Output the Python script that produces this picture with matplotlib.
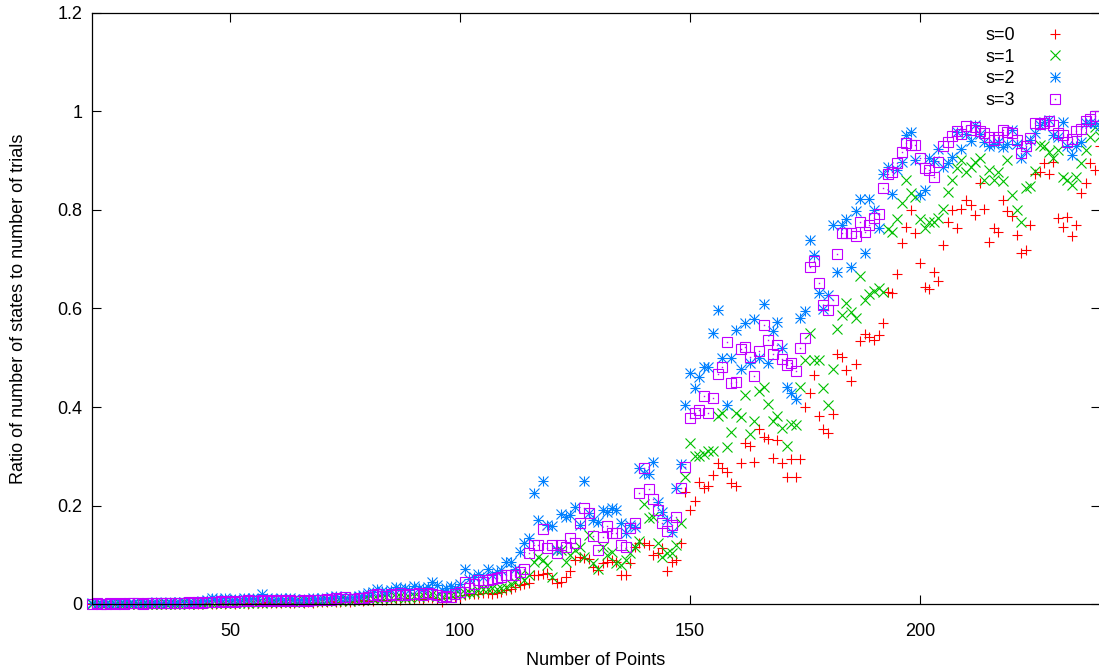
import matplotlib
matplotlib.use("Agg")
import matplotlib.pyplot as plt
from matplotlib.legend_handler import HandlerTuple
from matplotlib.ticker import FuncFormatter, MultipleLocator
import numpy as np

plt.rcParams["font.family"] = ["Liberation Sans", "DejaVu Sans"]

# number of points, one trial batch per size
points = list(range(20, 240))

# ratio of states to trials, s=0
ratio_s0 = [
    0, 0, 0, 0, 0, 0, 0, 0, 0, 0,
    0, 0, 0, 0, 0, 0.001, 0, 0, 0.001, 0,
    0, 0.001, 0, 0.001, 0, 0.002, 0, 0.001, 0.002, 0.001,
    0.002, 0.001, 0.002, 0.003, 0.001, 0.002, 0.003, 0.002, 0.004, 0.002,
    0.003, 0.002, 0.004, 0.003, 0.002, 0.004, 0.003, 0.005, 0.003, 0.004,
    0.005, 0.004, 0.006, 0.004, 0.005, 0.007, 0.005, 0.006, 0.008, 0.006,
    0.008, 0.007, 0.01, 0.009, 0.008, 0.011, 0.01, 0.009, 0.012, 0.01,
    0.011, 0.013, 0.01, 0.014, 0.012, 0.011, 0.005, 0.013, 0.015, 0.014,
    0.015, 0.018, 0.02, 0.02, 0.02, 0.022, 0.022, 0.02, 0.022, 0.025,
    0.028, 0.03, 0.035, 0.038, 0.04, 0.042, 0.059, 0.059, 0.06, 0.062,
    0.05, 0.042, 0.045, 0.055, 0.066, 0.089, 0.096, 0.093, 0.091, 0.076,
    0.069, 0.083, 0.086, 0.089, 0.086, 0.059, 0.059, 0.083, 0.116, 0.123,
    0.123, 0.12, 0.1, 0.103, 0.113, 0.066, 0.086, 0.09, 0.123, 0.228,
    0.19, 0.21, 0.248, 0.235, 0.24, 0.262, 0.286, 0.276, 0.269, 0.245,
    0.24, 0.286, 0.326, 0.321, 0.288, 0.355, 0.34, 0.336, 0.297, 0.333,
    0.287, 0.257, 0.294, 0.257, 0.295, 0.401, 0.428, 0.465, 0.382, 0.355,
    0.347, 0.385, 0.508, 0.502, 0.475, 0.453, 0.487, 0.534, 0.548, 0.542,
    0.537, 0.546, 0.571, 0.634, 0.631, 0.67, 0.734, 0.765, 0.801, 0.753,
    0.692, 0.643, 0.64, 0.675, 0.655, 0.729, 0.776, 0.801, 0.764, 0.803,
    0.82, 0.81, 0.79, 0.854, 0.802, 0.736, 0.763, 0.756, 0.82, 0.797,
    0.788, 0.749, 0.712, 0.719, 0.77, 0.873, 0.878, 0.895, 0.874, 0.898,
    0.784, 0.765, 0.785, 0.747, 0.77, 0.834, 0.854, 0.895, 0.881, 0.93,
]

# s=1
ratio_s1 = [
    0, 0, 0, 0, 0.001, 0, 0, 0.001, 0, 0,
    0.001, 0, 0.001, 0, 0.001, 0.001, 0, 0.002, 0.001, 0.001,
    0.002, 0.001, 0.002, 0.001, 0.003, 0.002, 0.002, 0.003, 0.002, 0.003,
    0.003, 0.002, 0.004, 0.003, 0.003, 0.004, 0.005, 0.003, 0.005, 0.004,
    0.004, 0.005, 0.004, 0.006, 0.005, 0.004, 0.006, 0.005, 0.007, 0.006,
    0.006, 0.008, 0.007, 0.006, 0.009, 0.008, 0.007, 0.01, 0.008, 0.009,
    0.012, 0.011, 0.013, 0.012, 0.015, 0.013, 0.014, 0.016, 0.013, 0.015,
    0.017, 0.015, 0.018, 0.016, 0.02, 0.017, 0.015, 0.019, 0.018, 0.02,
    0.02, 0.022, 0.025, 0.025, 0.028, 0.03, 0.03, 0.032, 0.03, 0.033,
    0.035, 0.04, 0.045, 0.059, 0.049, 0.059, 0.086, 0.096, 0.089, 0.079,
    0.055, 0.11, 0.11, 0.086, 0.1, 0.11, 0.116, 0.096, 0.14, 0.083,
    0.072, 0.116, 0.1, 0.106, 0.083, 0.079, 0.09, 0.103, 0.116, 0.127,
    0.204, 0.174, 0.177, 0.123, 0.096, 0.103, 0.103, 0.12, 0.164, 0.258,
    0.326, 0.3, 0.3, 0.305, 0.31, 0.31, 0.382, 0.387, 0.319, 0.349,
    0.387, 0.38, 0.424, 0.345, 0.372, 0.432, 0.441, 0.406, 0.372, 0.382,
    0.357, 0.321, 0.365, 0.363, 0.441, 0.495, 0.551, 0.495, 0.495, 0.439,
    0.404, 0.477, 0.558, 0.587, 0.612, 0.592, 0.58, 0.666, 0.617, 0.629,
    0.635, 0.641, 0.634, 0.761, 0.756, 0.781, 0.814, 0.861, 0.834, 0.827,
    0.781, 0.763, 0.776, 0.776, 0.783, 0.803, 0.837, 0.861, 0.885, 0.902,
    0.878, 0.888, 0.898, 0.905, 0.861, 0.882, 0.86, 0.878, 0.858, 0.902,
    0.83, 0.8, 0.776, 0.844, 0.849, 0.88, 0.932, 0.929, 0.918, 0.905,
    0.922, 0.868, 0.861, 0.851, 0.868, 0.895, 0.922, 0.949, 0.969, 0.95,
]

# s=2
ratio_s2 = [
    0.002, 0.001, 0.002, 0.002, 0.001, 0.002, 0.003, 0.002, 0.002, 0.003,
    0.002, 0.003, 0.002, 0.003, 0.004, 0.003, 0.002, 0.004, 0.003, 0.004,
    0.004, 0.005, 0.003, 0.005, 0.006, 0.009, 0.012, 0.01, 0.008, 0.012,
    0.009, 0.011, 0.008, 0.012, 0.01, 0.013, 0.011, 0.02, 0.012, 0.01,
    0.011, 0.012, 0.009, 0.012, 0.01, 0.008, 0.011, 0.009, 0.012, 0.01,
    0.012, 0.011, 0.014, 0.016, 0.013, 0.012, 0.015, 0.014, 0.016, 0.018,
    0.022, 0.025, 0.03, 0.027, 0.024, 0.028, 0.035, 0.03, 0.032, 0.029,
    0.037, 0.032, 0.03, 0.034, 0.045, 0.038, 0.028, 0.032, 0.036, 0.032,
    0.04, 0.072, 0.05, 0.055, 0.06, 0.055, 0.072, 0.059, 0.065, 0.07,
    0.086, 0.086, 0.072, 0.106, 0.124, 0.134, 0.225, 0.17, 0.25, 0.16,
    0.158, 0.11, 0.182, 0.177, 0.18, 0.196, 0.16, 0.25, 0.184, 0.17,
    0.167, 0.191, 0.187, 0.194, 0.191, 0.165, 0.144, 0.16, 0.157, 0.276,
    0.265, 0.264, 0.289, 0.208, 0.187, 0.17, 0.147, 0.235, 0.284, 0.405,
    0.47, 0.438, 0.46, 0.482, 0.482, 0.55, 0.597, 0.499, 0.404, 0.5,
    0.556, 0.477, 0.571, 0.489, 0.578, 0.499, 0.609, 0.49, 0.554, 0.573,
    0.52, 0.441, 0.429, 0.416, 0.58, 0.594, 0.739, 0.709, 0.631, 0.6,
    0.627, 0.77, 0.675, 0.77, 0.781, 0.684, 0.797, 0.822, 0.712, 0.822,
    0.801, 0.763, 0.874, 0.887, 0.832, 0.881, 0.897, 0.952, 0.959, 0.902,
    0.83, 0.841, 0.905, 0.9, 0.923, 0.888, 0.895, 0.908, 0.959, 0.923,
    0.954, 0.941, 0.973, 0.954, 0.939, 0.929, 0.935, 0.939, 0.927, 0.935,
    0.962, 0.935, 0.905, 0.92, 0.942, 0.956, 0.973, 0.979, 0.983, 0.952,
    0.949, 0.979, 0.93, 0.912, 0.93, 0.939, 0.976, 0.976, 0.976, 0.97,
]

# s=3
ratio_s3 = [
    0.001, 0.002, 0.001, 0.001, 0.002, 0.001, 0.002, 0.001, 0.002, 0.002,
    0.002, 0.001, 0.002, 0.003, 0.002, 0.002, 0.003, 0.002, 0.003, 0.003,
    0.003, 0.004, 0.003, 0.004, 0.003, 0.005, 0.004, 0.005, 0.006, 0.005,
    0.006, 0.005, 0.007, 0.006, 0.008, 0.006, 0.007, 0.009, 0.007, 0.008,
    0.007, 0.008, 0.006, 0.008, 0.007, 0.006, 0.008, 0.007, 0.009, 0.008,
    0.008, 0.01, 0.009, 0.012, 0.01, 0.015, 0.011, 0.01, 0.013, 0.012,
    0.015, 0.018, 0.02, 0.017, 0.016, 0.02, 0.019, 0.022, 0.018, 0.021,
    0.02, 0.022, 0.019, 0.023, 0.021, 0.018, 0.015, 0.016, 0.015, 0.02,
    0.025, 0.045, 0.032, 0.04, 0.049, 0.045, 0.048, 0.05, 0.052, 0.055,
    0.059, 0.059, 0.059, 0.065, 0.072, 0.103, 0.12, 0.12, 0.152, 0.113,
    0.12, 0.104, 0.12, 0.116, 0.133, 0.124, 0.164, 0.194, 0.184, 0.138,
    0.11, 0.137, 0.158, 0.145, 0.145, 0.12, 0.116, 0.154, 0.164, 0.226,
    0.277, 0.233, 0.213, 0.191, 0.165, 0.148, 0.16, 0.177, 0.236, 0.279,
    0.377, 0.387, 0.394, 0.422, 0.388, 0.419, 0.466, 0.482, 0.531, 0.448,
    0.451, 0.517, 0.521, 0.501, 0.462, 0.514, 0.566, 0.537, 0.508, 0.526,
    0.497, 0.486, 0.489, 0.473, 0.52, 0.541, 0.684, 0.696, 0.651, 0.607,
    0.596, 0.617, 0.711, 0.753, 0.754, 0.753, 0.747, 0.776, 0.756, 0.77,
    0.783, 0.792, 0.844, 0.873, 0.878, 0.895, 0.918, 0.937, 0.932, 0.932,
    0.905, 0.885, 0.881, 0.868, 0.898, 0.93, 0.939, 0.95, 0.961, 0.954,
    0.971, 0.962, 0.969, 0.96, 0.957, 0.949, 0.942, 0.949, 0.962, 0.959,
    0.956, 0.942, 0.915, 0.929, 0.946, 0.976, 0.975, 0.977, 0.981, 0.973,
    0.956, 0.952, 0.939, 0.945, 0.961, 0.964, 0.981, 0.984, 0.991, 0.99,
]

series_labels = ["s=0", "s=1", "s=2", "s=3"]
colors = ["#ff0000", "#00c000", "#0080ff", "#c000ff"]

W, H = 1099, 672
fig = plt.figure(figsize=(W / 100, H / 100), dpi=100)
# plot box in pixels: x 92..1099.5, y 13..604
ax = fig.add_axes([92 / W, (H - 604) / H, 1007.5 / W, 591 / H])

ms = 7.4
lw = 0.8
x = np.array(points)

h0, = ax.plot(x, ratio_s0, ls="none", marker="+", ms=ms, mew=lw, color=colors[0], clip_on=False)
h1, = ax.plot(x, ratio_s1, ls="none", marker="x", ms=ms * 0.95, mew=lw, color=colors[1], clip_on=False)
h2a, = ax.plot(x, ratio_s2, ls="none", marker="+", ms=ms, mew=lw, color=colors[2], clip_on=False)
h2b, = ax.plot(x, ratio_s2, ls="none", marker="x", ms=ms * 0.95, mew=lw, color=colors[2], clip_on=False)
h3a, = ax.plot(x, ratio_s3, ls="none", marker="s", ms=ms * 0.95, mew=lw, mfc="none", color=colors[3], clip_on=False)
h3b, = ax.plot(x, ratio_s3, ls="none", marker="s", ms=1.0, mew=0.0, color=colors[3], clip_on=False)

ax.set_xlim(20, 239)
ax.set_ylim(0, 1.2)
ax.xaxis.set_major_locator(MultipleLocator(50))
ax.yaxis.set_major_locator(MultipleLocator(0.2))
ax.yaxis.set_major_formatter(FuncFormatter(lambda v, _: f"{v:g}"))
ax.tick_params(direction="in", length=6.5, width=0.8, top=True, right=True,
               labelsize=13, colors="black")
ax.tick_params(axis="x", pad=14)
ax.tick_params(axis="y", pad=7)
for side in ax.spines.values():
    side.set_linewidth(0.9)

ax.set_xlabel("Number of Points", fontsize=13)
ax.set_ylabel("Ratio of number of states to number of trials", fontsize=13)
ax.xaxis.set_label_coords(0.5, -0.081)
ax.yaxis.set_label_coords(-0.0645, 0.5)

ax.legend([h0, h1, (h2a, h2b), (h3a, h3b)], series_labels,
          handler_map={tuple: HandlerTuple(ndivide=1)},
          loc="upper right", bbox_to_anchor=(1075 / W, (H - 18) / H),
          bbox_transform=fig.transFigure, frameon=False, markerfirst=False,
          fontsize=13, handlelength=1.2, handletextpad=1.6,
          labelspacing=0.26, borderpad=0.0)

fig.savefig("out.png", dpi=100)
